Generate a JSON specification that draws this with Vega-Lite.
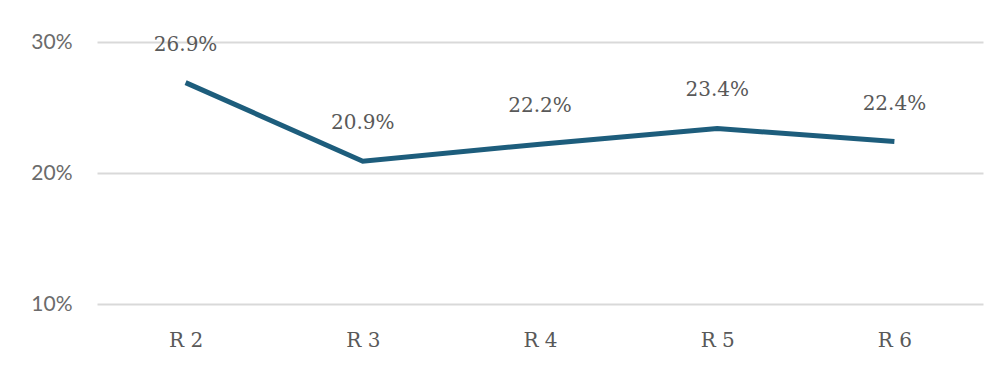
{
  "$schema": "https://vega.github.io/schema/vega-lite/v6.json",
  "autosize": {"type": "none"},
  "width": 886,
  "height": 262,
  "padding": {"left": 97, "top": 42, "right": 14, "bottom": 65},
  "background": "white",
  "config": {"view": {"stroke": null}},
  "data": {"values": [
    {"round": "R 2", "rate": 0.269},
    {"round": "R 3", "rate": 0.209},
    {"round": "R 4", "rate": 0.222},
    {"round": "R 5", "rate": 0.234},
    {"round": "R 6", "rate": 0.224}
  ]},
  "encoding": {
    "x": {
      "field": "round", "type": "ordinal", "sort": null,
      "scale": {"type": "point", "padding": 0.5},
      "axis": {"title": null, "domain": false, "ticks": false, "labelAngle": 0,
        "labelFont": "DejaVu Serif", "labelFontSize": 20, "labelColor": "#595959",
        "labelPadding": 26}
    },
    "y": {
      "field": "rate", "type": "quantitative",
      "scale": {"domain": [0.1, 0.3], "nice": false, "zero": false},
      "axis": {"title": null, "domain": false, "ticks": false, "values": [0.1, 0.2, 0.3],
        "format": ".0%", "labelFont": "Lato", "labelFontSize": 21, "labelColor": "#6b6b6b",
        "labelPadding": 25, "gridColor": "#d9d9d9", "gridWidth": 2}
    }
  },
  "layer": [
    {"mark": {"type": "line", "color": "#1d5d7c", "strokeWidth": 5, "strokeJoin": "miter"}},
    {"mark": {"type": "text", "dy": -38, "font": "DejaVu Serif", "fontSize": 20, "color": "#595959", "baseline": "middle"},
     "encoding": {"text": {"field": "rate", "type": "quantitative", "format": ".1%"}}}
  ]
}
